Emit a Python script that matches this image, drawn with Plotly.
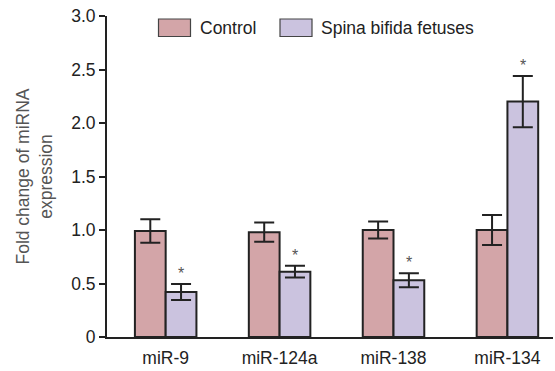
import plotly.graph_objects as go

categories = ["miR-9", "miR-124a", "miR-138", "miR-134"]
control = [0.99, 0.98, 1.00, 1.00]
control_err = [0.11, 0.09, 0.08, 0.14]
spina = [0.42, 0.61, 0.53, 2.20]
spina_err = [0.075, 0.055, 0.065, 0.24]
series_names = ["Control", "Spina bifida fetuses"]
y_ticks = [0, 0.5, 1.0, 1.5, 2.0, 2.5, 3.0]
y_tick_text = ["0", "0.5", "1.0", "1.5", "2.0", "2.5", "3.0"]

C_CTRL = "#D3A5A8"
C_SPINA = "#CBC3DF"
DARK = "#222222"
FONT = "Liberation Sans, Arial, sans-serif"
FS = 17.5

xs = list(range(len(categories)))
fig = go.Figure()
for name, vals, errs, col in [(series_names[0], control, control_err, C_CTRL),
                              (series_names[1], spina, spina_err, C_SPINA)]:
    fig.add_trace(go.Bar(
        x=xs, y=vals, name=name, marker=dict(color=col, line=dict(color=DARK, width=2)),
        error_y=dict(type="data", array=errs, color=DARK, thickness=2, width=10),
        showlegend=False,
    ))

# significance asterisks above spina bars
for i, (v, e) in enumerate(zip(spina, spina_err)):
    fig.add_annotation(x=i + 0.135, y=v + e, text="*", showarrow=False, yanchor="bottom",
                       yshift=0, font=dict(size=16, color="#555555", family=FONT))

# custom legend
legend_items = [(series_names[0], C_CTRL, 158.5), (series_names[1], C_SPINA, 280)]
for name, col, x0 in legend_items:
    fig.add_shape(type="rect", xref="paper", yref="paper",
                  x0=(x0 - 107) / 446, x1=(x0 + 32 - 107) / 446,
                  y0=(337 - 36.5) / 321, y1=(337 - 19) / 321,
                  fillcolor=col, line=dict(color="#444444", width=1.2))
    fig.add_annotation(xref="paper", yref="paper", x=(x0 + 39 - 107) / 446,
                       y=(337 - 28) / 321, text=name, showarrow=False, xanchor="left",
                       yanchor="middle", font=dict(size=FS, color="#222222", family=FONT))

fig.update_layout(
    width=555, height=371,
    margin=dict(l=107, r=2, t=16, b=34),
    paper_bgcolor="white", plot_bgcolor="white",
    barmode="group", bargap=0.46, bargroupgap=0,
    font=dict(family=FONT, size=FS, color="#222222"),
    xaxis=dict(range=[-0.515, 3.4], tickmode="array", tickvals=xs, ticktext=categories,
               showline=True, linecolor=DARK, linewidth=2, ticks="outside", ticklen=4,
               tickcolor="rgba(0,0,0,0)", showgrid=False,
               zeroline=False, tickfont=dict(size=FS, color="#222222")),
    yaxis=dict(range=[0, 3.0], tickmode="array", tickvals=y_ticks, ticktext=y_tick_text,
               showline=True, linecolor=DARK, linewidth=2, ticks="outside", ticklen=6,
               tickwidth=2, tickcolor=DARK, showgrid=False, zeroline=False,
               tickfont=dict(size=FS, color="#222222"),
               title=dict(text="Fold change of miRNA<br>expression", standoff=14,
                          font=dict(size=FS, color="#555555"))),
)

fig.write_html("out.html")
